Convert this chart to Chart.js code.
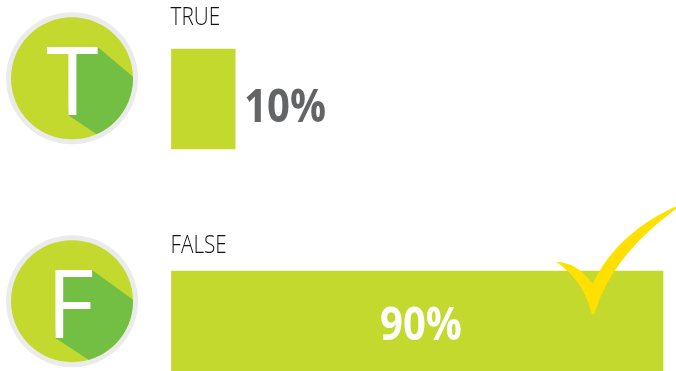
<!DOCTYPE html>
<html><head><meta charset="utf-8">
<style>html,body{margin:0;padding:0;background:#fff;overflow:hidden}canvas{display:block}</style>
<script src="https://cdn.jsdelivr.net/npm/chart.js@4/dist/chart.umd.min.js"></script>
</head><body><canvas id="c" width="676" height="371"></canvas>
<script>
const categories = ['TRUE', 'FALSE'];
const iconLetters = ['T', 'F'];
const values = [10, 90];
const valueLabels = ['10%', '90%'];

const GREEN = '#c3d92d', SHADOW = '#72bf44', RING = '#ebebeb', YELLOW = '#ffe000';

function scaledText(ctx, text, x, y, font, color, sx, align) {
  ctx.save();
  ctx.font = font; ctx.fillStyle = color; ctx.textBaseline = 'alphabetic'; ctx.textAlign = align || 'left';
  ctx.translate(x, y); ctx.scale(sx, 1); ctx.fillText(text, 0, 0);
  ctx.restore();
}
function badge(ctx, cy, pts) {
  const cx = 72, R = 61;
  ctx.beginPath(); ctx.arc(cx, cy, 66, 0, Math.PI * 2); ctx.fillStyle = RING; ctx.fill();
  ctx.beginPath(); ctx.arc(cx, cy, R, 0, Math.PI * 2); ctx.fillStyle = GREEN; ctx.fill();
  ctx.save();
  ctx.beginPath(); ctx.arc(cx, cy, R, 0, Math.PI * 2); ctx.clip();
  ctx.beginPath(); pts.forEach((p, i) => i ? ctx.lineTo(p[0], p[1]) : ctx.moveTo(p[0], p[1]));
  ctx.closePath(); ctx.fillStyle = SHADOW; ctx.fill();
  ctx.restore();
}
const decor = {
  id: 'decor',
  afterDatasetsDraw(chart) {
    const ctx = chart.ctx, x = chart.scales.x;
    // badges
    badge(ctx, 78.3, [[72, 50], [97.7, 47], [150, 91], [150, 170], [68, 115]]);
    badge(ctx, 301.2, [[60, 272], [92, 270], [150, 312], [150, 400], [55, 337.7]]);
    scaledText(ctx, iconLetters[0], 72.5, 115, '95px "Open Sans"', '#fff', 1, 'center');
    scaledText(ctx, iconLetters[1], 46.5, 337.7, '95px "Open Sans"', '#fff', 0.97, 'left');
    // category labels above bars
    const labFont = '300 25px "Open Sans"';
    scaledText(ctx, categories[0], 170.5, 25, labFont, '#111', 0.83);
    scaledText(ctx, categories[1], 170.5, 253, labFont, '#111', 0.83);
    // value labels
    const bigFont = 'bold 46px "Open Sans"';
    scaledText(ctx, valueLabels[0], x.getPixelForValue(values[0]) + 9, 122, bigFont, '#636466', 0.87);
    scaledText(ctx, valueLabels[1], 421, 340, bigFont, '#fff', 0.87, 'center');
    // check mark
    ctx.beginPath();
    ctx.moveTo(556, 262);
    ctx.quadraticCurveTo(577, 262, 592.7, 284);
    ctx.bezierCurveTo(608, 250, 640, 222, 676, 206.5);
    ctx.lineTo(676, 209);
    ctx.bezierCurveTo(640, 235, 608, 270, 595, 312);
    ctx.quadraticCurveTo(593, 317, 591, 312);
    ctx.bezierCurveTo(586, 290, 572, 272, 556, 262);
    ctx.closePath(); ctx.fillStyle = YELLOW; ctx.fill();
  }
};
new Chart(document.getElementById('c'), {
  type: 'bar',
  data: { labels: categories, datasets: [{ data: values, backgroundColor: GREEN, borderWidth: 0, barThickness: 100, base: -1.9, clip: false }] },
  options: {
    indexAxis: 'y', responsive: false, animation: false,
    layout: { padding: { left: 171.5, right: 13, top: 99, bottom: 50 } },
    plugins: { legend: { display: false }, tooltip: { enabled: false } },
    scales: {
      x: { display: false, min: -1.9, max: 90 },
      y: { display: false, offset: false }
    }
  },
  plugins: [decor]
});
</script></body></html>
